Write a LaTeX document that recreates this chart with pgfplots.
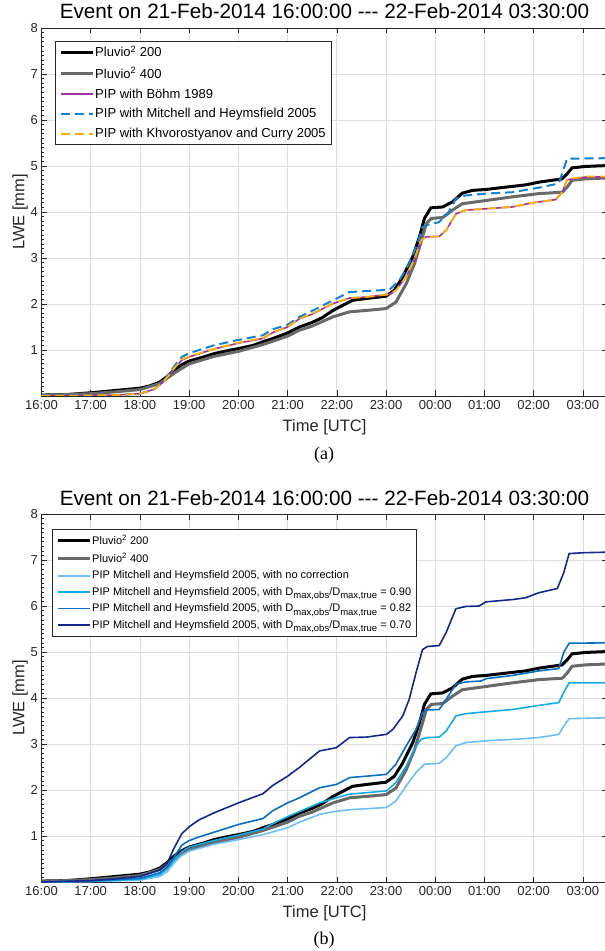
\documentclass[border=0pt]{standalone}
\usepackage{fontspec}
\setmainfont{Liberation Sans}
\newfontfamily\seriffont{Liberation Serif}
\usepackage{pgfplots}
\usepackage{pgfplotstable}
\pgfplotsset{compat=1.18}

\definecolor{axgray}{RGB}{38,38,38}
\definecolor{gridgray}{RGB}{222,222,222}
\definecolor{pgray}{RGB}{105,105,105}
\definecolor{bohm}{RGB}{160,50,170}
\definecolor{mhblue}{RGB}{20,130,210}
\definecolor{kcorange}{RGB}{255,175,0}
\definecolor{lbA}{RGB}{110,190,250}
\definecolor{lbB}{RGB}{20,170,230}
\definecolor{lbC}{RGB}{10,110,190}
\definecolor{lbD}{RGB}{20,40,140}

\newcommand{\sub}[1]{\raisebox{-0.32em}{\fontsize{9.5}{10}\selectfont #1}}

\pgfplotstableread{
x y
16.0 0.02
16.5 0.03
17.0 0.07
17.5 0.12
18.0 0.17
18.2 0.22
18.4 0.30
18.55 0.42
18.7 0.57
18.85 0.68
19.0 0.76
19.3 0.85
19.5 0.92
19.8 0.99
20.0 1.03
20.3 1.10
20.5 1.18
20.7 1.25
21.0 1.37
21.24 1.50
21.5 1.60
21.7 1.70
21.92 1.86
22.32 2.08
22.6 2.12
23.0 2.17
23.17 2.30
23.34 2.59
23.54 3.02
23.68 3.46
23.78 3.86
23.91 4.09
24.15 4.11
24.35 4.22
24.55 4.41
24.76 4.47
25.03 4.49
25.43 4.54
25.84 4.59
26.11 4.65
26.58 4.72
26.68 4.83
26.78 4.96
27.05 4.99
27.5 5.01
}\pluvA

\pgfplotstableread{
x y
16.0 0.01
17.0 0.05
17.5 0.09
18.0 0.14
18.4 0.27
18.7 0.50
19.0 0.70
19.5 0.86
20.0 0.97
20.5 1.12
21.0 1.30
21.24 1.43
21.5 1.52
21.92 1.72
22.26 1.83
22.6 1.86
23.0 1.90
23.2 2.04
23.41 2.44
23.58 2.88
23.72 3.38
23.82 3.75
23.92 3.86
24.15 3.88
24.35 4.04
24.55 4.18
25.03 4.25
25.57 4.33
26.11 4.40
26.58 4.43
26.68 4.54
26.78 4.69
27.05 4.72
27.5 4.74
}\pluvB

\pgfplotstableread{
x y
16.0 0.00
17.0 0.01
17.5 0.02
18.0 0.05
18.3 0.15
18.5 0.35
18.7 0.65
18.85 0.85
19.0 0.93
19.5 1.10
20.0 1.22
20.5 1.32
20.7 1.45
21.0 1.55
21.24 1.72
21.5 1.85
21.92 2.08
22.26 2.26
22.59 2.28
23.07 2.31
23.27 2.51
23.47 2.88
23.64 3.31
23.74 3.67
23.84 3.72
24.08 3.78
24.25 3.96
24.42 4.29
24.62 4.36
25.03 4.40
25.57 4.43
26.11 4.53
26.51 4.62
26.61 4.94
26.68 5.16
27.5 5.17
}\mitchell

\pgfplotstableread{
x y
16.0 0.00
17.0 0.01
17.5 0.02
18.0 0.05
18.3 0.15
18.5 0.33
18.7 0.60
18.85 0.78
19.0 0.85
19.5 1.02
20.0 1.15
20.5 1.25
20.7 1.38
21.0 1.50
21.24 1.68
21.5 1.78
21.92 2.01
22.26 2.13
22.59 2.15
23.07 2.21
23.2 2.30
23.41 2.59
23.57 2.95
23.71 3.38
23.81 3.46
24.08 3.47
24.22 3.60
24.42 3.96
24.62 4.04
25.03 4.07
25.57 4.11
25.97 4.20
26.45 4.27
26.58 4.43
26.68 4.70
27.05 4.76
27.5 4.76
}\bohm

\pgfplotstableread{
x y
16.0 0.00
17.0 0.01
17.5 0.02
18.0 0.05
18.3 0.15
18.5 0.33
18.7 0.61
18.85 0.79
19.0 0.86
19.5 1.02
20.0 1.16
20.5 1.26
20.7 1.38
21.0 1.51
21.24 1.68
21.5 1.79
21.92 2.01
22.26 2.13
22.59 2.15
23.07 2.21
23.2 2.30
23.41 2.59
23.57 2.95
23.71 3.38
23.81 3.46
24.08 3.47
24.22 3.60
24.42 3.96
24.62 4.04
25.03 4.07
25.57 4.11
25.97 4.20
26.45 4.27
26.58 4.43
26.68 4.71
27.05 4.77
27.5 4.77
}\khvo

\pgfplotstableread{
x y
16.0 0.00
17.0 0.03
17.5 0.07
18.0 0.12
18.4 0.26
18.55 0.40
18.7 0.75
18.85 1.05
19.0 1.20
19.2 1.35
19.5 1.50
20.0 1.72
20.5 1.92
20.7 2.10
21.0 2.30
21.24 2.49
21.65 2.85
21.99 2.92
22.26 3.14
22.6 3.15
23.01 3.21
23.14 3.32
23.34 3.61
23.47 3.97
23.61 4.55
23.74 5.05
23.84 5.12
24.08 5.14
24.22 5.42
24.42 5.94
24.62 5.99
24.89 6.00
25.03 6.09
25.57 6.14
25.84 6.18
26.11 6.29
26.48 6.38
26.61 6.72
26.72 7.14
27.05 7.16
27.5 7.17
}\rseventy

\pgfplotstableread{
x y
16.0 0.00
17.0 0.02
18.0 0.08
18.4 0.20
18.55 0.32
18.7 0.55
18.85 0.80
19.0 0.90
19.2 0.98
19.5 1.08
20.0 1.25
20.5 1.38
20.7 1.55
21.0 1.72
21.24 1.83
21.65 2.05
21.99 2.12
22.26 2.27
22.6 2.30
23.01 2.34
23.2 2.56
23.41 2.96
23.61 3.32
23.74 3.68
23.84 3.74
24.08 3.75
24.22 3.97
24.42 4.30
24.62 4.35
24.93 4.37
25.03 4.42
25.57 4.49
26.11 4.59
26.51 4.64
26.61 4.99
26.72 5.19
27.5 5.20
}\reightytwo

\pgfplotstableread{
x y
16.0 0.00
17.0 0.02
18.0 0.06
18.4 0.16
18.55 0.28
18.7 0.48
18.85 0.66
19.0 0.76
19.5 0.90
20.0 1.02
20.5 1.15
20.7 1.27
21.0 1.42
21.24 1.53
21.65 1.72
21.99 1.83
22.26 1.91
23.01 1.98
23.2 2.16
23.41 2.52
23.57 2.88
23.71 3.10
23.84 3.14
24.08 3.15
24.22 3.28
24.42 3.61
24.62 3.66
25.03 3.70
25.57 3.75
26.11 3.84
26.51 3.90
26.61 4.12
26.72 4.33
27.5 4.33
}\rninety

\pgfplotstableread{
x y
16.0 0.00
17.0 0.01
18.0 0.04
18.4 0.12
18.55 0.22
18.7 0.42
18.85 0.58
19.0 0.67
19.5 0.82
20.0 0.92
20.5 1.03
21.0 1.18
21.24 1.30
21.65 1.47
21.99 1.54
22.26 1.57
23.01 1.62
23.2 1.76
23.41 2.09
23.61 2.38
23.78 2.56
24.08 2.58
24.22 2.70
24.42 2.96
24.62 3.03
25.03 3.07
25.57 3.10
26.11 3.14
26.51 3.21
26.61 3.39
26.72 3.55
27.5 3.57
}\nocorr

\pgfplotsset{evstyle/.style={
  scale only axis, width=566pt, height=368pt,
  xmin=16, xmax=27.5, ymin=0, ymax=8,
  xtick={16,...,27},
  xticklabels={16:00,17:00,18:00,19:00,20:00,21:00,22:00,23:00,00:00,01:00,02:00,03:00},
  ytick={0,...,8}, yticklabels={,1,2,3,4,5,6,7,8},
  minor y tick num=9,
  tick align=inside,
  major tick length=5.5pt, minor tick length=3pt,
  grid=major,
  major grid style={gridgray, line width=0.7pt},
  axis line style={axgray, line width=0.7pt},
  every tick/.style={axgray, line width=0.6pt},
  tick label style={font=\fontsize{13}{15}\selectfont, text=axgray},
  xticklabel style={yshift=-1pt},
  /pgf/number format/assume math mode=true,
  xlabel={Time [UTC]}, ylabel={LWE [mm]},
  label style={font=\fontsize{16.5}{19}\selectfont, text=axgray},
  xlabel style={at={(axis description cs:0.5,-0.0842)}, anchor=center},
  ylabel style={at={(axis description cs:-0.038,0.5)}, anchor=center},
  title={Event on 21-Feb-2014 16:00:00 -{}-{}- 22-Feb-2014 03:30:00},
  title style={at={(axis description cs:0.5,1)}, anchor=base, yshift=3pt, font=\fontsize{20.7}{23}\selectfont, text=black},
  legend cell align=left,
  legend image code/.code={\draw[#1] (0pt,0pt) -- (32pt,0pt);},
}}

\begin{document}
\begin{tikzpicture}[x=1pt,y=1pt]
\path[use as bounding box] (0,0) rectangle (605,951);

\begin{axis}[evstyle, at={(41.5pt,555pt)}, anchor=south west,
  legend style={at={(axis description cs:0.0239,0.9647)}, anchor=north west,
    draw=axgray, fill=white, font=\fontsize{13}{15}\selectfont,
    inner xsep=4pt, inner ysep=4pt, row sep=7pt, nodes={inner sep=1pt}}]
\addplot[black, line width=3pt] table {\pluvA};
\addlegendentry{Pluvio\textsuperscript{2} 200}
\addplot[pgray, line width=3pt] table {\pluvB};
\addlegendentry{Pluvio\textsuperscript{2} 400}
\addplot[bohm, line width=1.6pt] table {\bohm};
\addlegendentry{PIP with Böhm 1989}
\addplot[mhblue, line width=2pt, dash pattern=on 9pt off 5pt] table {\mitchell};
\addlegendentry{PIP with Mitchell and Heymsfield 2005}
\addplot[kcorange, line width=1.8pt, dash pattern=on 9pt off 5pt] table {\khvo};
\addlegendentry{PIP with Khvorostyanov and Curry 2005\hspace{4pt}}
\end{axis}

\begin{axis}[evstyle, at={(41.5pt,69pt)}, anchor=south west,
  legend style={at={(axis description cs:0.0186,0.959)}, anchor=north west,
    draw=axgray, fill=white, font=\fontsize{11}{13}\selectfont,
    inner xsep=4pt, inner ysep=5pt, row sep=5pt, nodes={inner sep=1pt}}]
\addplot[black, line width=3pt] table {\pluvA};
\addlegendentry{Pluvio\textsuperscript{2} 200}
\addplot[pgray, line width=3pt] table {\pluvB};
\addlegendentry{Pluvio\textsuperscript{2} 400}
\addplot[lbA, line width=1.6pt] table {\nocorr};
\addlegendentry{PIP Mitchell and Heymsfield 2005, with no correction}
\addplot[lbB, line width=1.6pt] table {\rninety};
\addlegendentry{PIP Mitchell and Heymsfield 2005, with D\sub{max,obs}/D\sub{max,true} = 0.90\hspace{10pt}}
\addplot[lbC, line width=1.6pt] table {\reightytwo};
\addlegendentry{PIP Mitchell and Heymsfield 2005, with D\sub{max,obs}/D\sub{max,true} = 0.82}
\addplot[lbD, line width=1.6pt] table {\rseventy};
\addlegendentry{PIP Mitchell and Heymsfield 2005, with D\sub{max,obs}/D\sub{max,true} = 0.70}
\end{axis}

\node[font=\seriffont\fontsize{18}{20}\selectfont] at (324,496) {(a)};
\node[font=\seriffont\fontsize{18}{20}\selectfont] at (324,11) {(b)};
\end{tikzpicture}
\end{document}
